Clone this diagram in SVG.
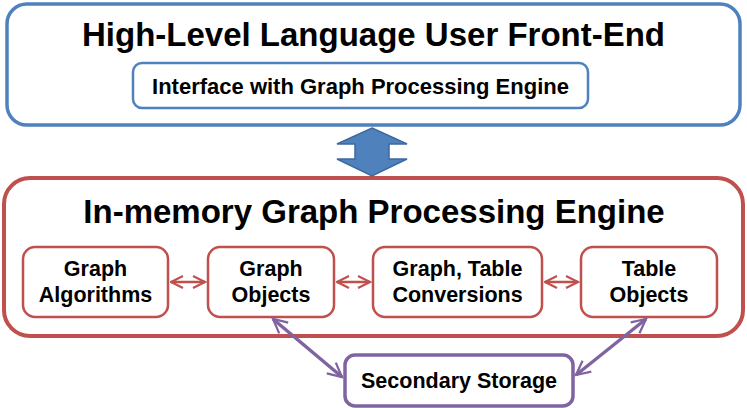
<svg xmlns="http://www.w3.org/2000/svg" width="747" height="408" viewBox="0 0 747 408">
<style>
text{font-family:"Liberation Sans",Arial,Helvetica,sans-serif;font-weight:bold;fill:#000;text-anchor:middle}
.title{font-size:33px}
.lbl{font-size:21.5px}
.blue{fill:#fff;stroke:#4F81BD}
.red{fill:#fff;stroke:#C0504D}
.purple{fill:#fff;stroke:#8064A2;stroke-width:3.5}
.rc{stroke:#C0504D;stroke-width:2.5;fill:none}
.pc{stroke:#8064A2;stroke-width:3.5;fill:none}
</style>
<defs>
<marker id="mr" viewBox="0 0 10 10" refX="9" refY="5" markerWidth="6" markerHeight="6" orient="auto-start-reverse" markerUnits="strokeWidth">
<path d="M1,1 L9,5 L1,9" fill="none" stroke="#C0504D" stroke-width="1.4"/>
</marker>
<marker id="mp" viewBox="0 0 10 10" refX="9" refY="5" markerWidth="5" markerHeight="5" orient="auto-start-reverse" markerUnits="strokeWidth">
<path d="M1,1 L9,5 L1,9" fill="none" stroke="#8064A2" stroke-width="1.3"/>
</marker>
</defs>
<g id="frontend">
<rect class="blue" x="7" y="4" width="733" height="121" rx="20" stroke-width="3.5"/>
<text class="title" x="373.5" y="46">High-Level Language User Front-End</text>
</g>
<g id="interface">
<rect class="blue" x="133" y="63" width="455" height="45" rx="9" stroke-width="2.5"/>
<text x="360.5" y="94" style="font-size:22px">Interface with Graph Processing Engine</text>
</g>
<g id="engine">
<rect class="red" x="4" y="178" width="739" height="158" rx="26" stroke-width="4"/>
<text class="title" x="374" y="223">In-memory Graph Processing Engine</text>
</g>
<g id="algorithms">
<rect class="red" x="23" y="247" width="145" height="70" rx="12" stroke-width="2.5"/>
<text class="lbl" x="95.5" y="276">Graph</text>
<text class="lbl" x="95.5" y="302">Algorithms</text>
</g>
<g id="graphobjects">
<rect class="red" x="208" y="247" width="126" height="70" rx="12" stroke-width="2.5"/>
<text class="lbl" x="271" y="276">Graph</text>
<text class="lbl" x="271" y="302">Objects</text>
</g>
<g id="conversions">
<rect class="red" x="373" y="247" width="169" height="70" rx="12" stroke-width="2.5"/>
<text class="lbl" x="457.5" y="276">Graph, Table</text>
<text class="lbl" x="457.5" y="302">Conversions</text>
</g>
<g id="tableobjects">
<rect class="red" x="581" y="247" width="136" height="70" rx="12" stroke-width="2.5"/>
<text class="lbl" x="649" y="276">Table</text>
<text class="lbl" x="649" y="302">Objects</text>
</g>
<g id="storage">
<rect class="purple" x="345" y="355" width="228" height="51" rx="10"/>
<text class="lbl" x="459" y="388">Secondary Storage</text>
</g>
<g id="connectors">
<path d="M372,128 L407,144 L389,144 L389,159 L407,159 L372,176 L337,159 L355,159 L355,144 L337,144 Z" fill="#4F81BD" stroke="#3C6A9E" stroke-width="1.5" stroke-linejoin="miter"/>
<line class="rc" x1="171" y1="282" x2="205" y2="282" marker-start="url(#mr)" marker-end="url(#mr)"/>
<line class="rc" x1="337" y1="282" x2="370" y2="282" marker-start="url(#mr)" marker-end="url(#mr)"/>
<line class="rc" x1="545" y1="282" x2="578" y2="282" marker-start="url(#mr)" marker-end="url(#mr)"/>
<line class="pc" x1="273" y1="319" x2="342" y2="377" marker-start="url(#mp)" marker-end="url(#mp)"/>
<line class="pc" x1="646" y1="319" x2="576" y2="375" marker-start="url(#mp)" marker-end="url(#mp)"/>
</g>
</svg>
